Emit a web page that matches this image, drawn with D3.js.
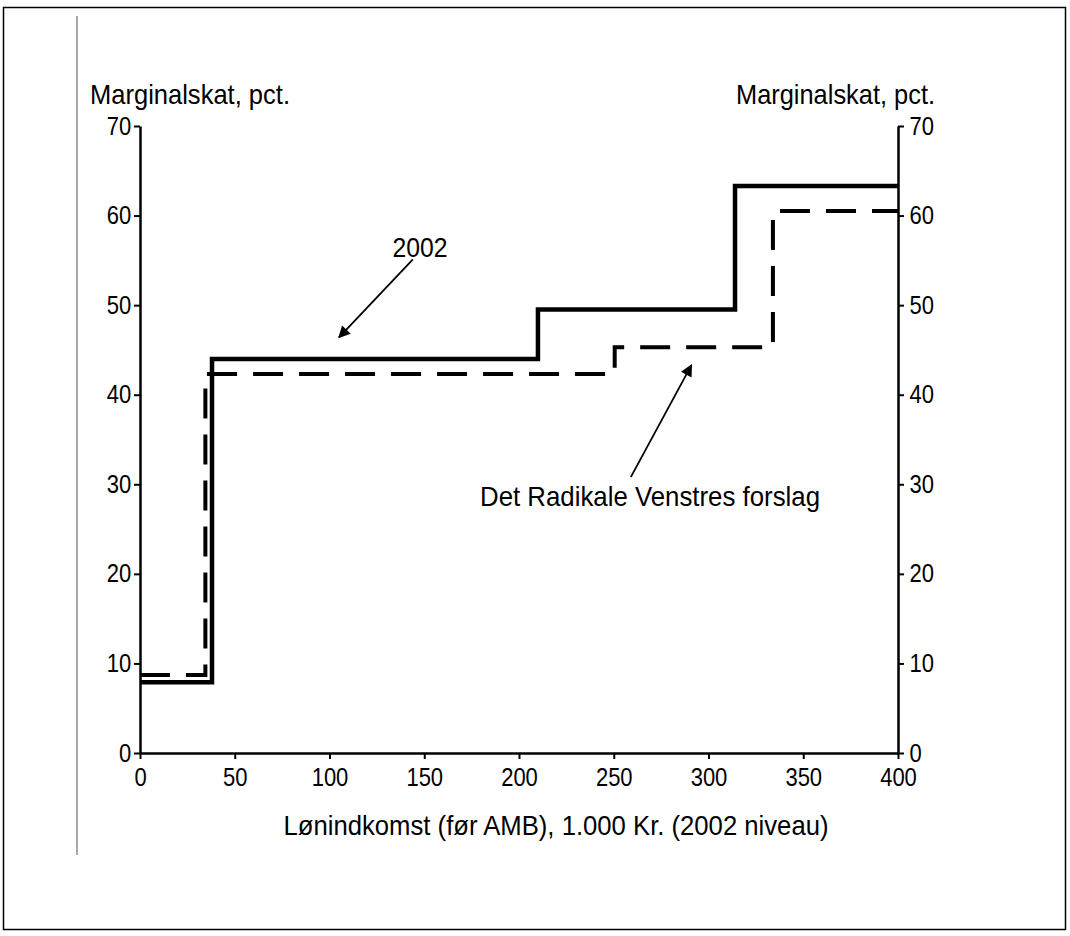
<!DOCTYPE html>
<html lang="da">
<head>
<meta charset="utf-8">
<title>Marginalskat</title>
<script src="https://cdnjs.cloudflare.com/ajax/libs/d3/7.8.5/d3.min.js"></script>
<style>
  body { margin: 0; background: #fff; }
  text { font-family: "Liberation Sans Narrow", "Arial Narrow", "Liberation Sans", sans-serif; fill: #000; }
</style>
</head>
<body>
<script>
// step data: [income in 1000 kr, marginal tax pct] - each value holds until the next x
const incomes2002 = [0, 38, 210, 314, 400];
const rates2002   = [7.9, 44, 49.5, 63.3, 63.3];
const incomesRV   = [0, 34.5, 250.5, 334, 400];
const ratesRV     = [8.7, 42.3, 45.3, 60.5, 60.5];
const xTicks = [0, 50, 100, 150, 200, 250, 300, 350, 400];
const yTicks = [0, 10, 20, 30, 40, 50, 60, 70];

const W = 1070, H = 936;
const margin = {left: 140, right: 172, top: 126, bottom: 183};

const svg = d3.select("body").append("svg")
  .attr("width", W).attr("height", H);

// frame of the scanned page
svg.append("rect").attr("x", 3.5).attr("y", 7.5).attr("width", 1062).attr("height", 922)
  .attr("fill", "none").attr("stroke", "#000").attr("stroke-width", 1.5);
svg.append("line").attr("x1", 77).attr("x2", 77).attr("y1", 16).attr("y2", 855)
  .attr("stroke", "#555").attr("stroke-width", 1);

const x = d3.scaleLinear().domain([0, 400]).range([margin.left, W - margin.right]);
const y = d3.scaleLinear().domain([0, 70]).range([H - margin.bottom, margin.top]);

const gx = svg.append("g").attr("transform", `translate(0,${y(0)})`)
  .call(d3.axisBottom(x).tickValues(xTicks).tickSize(6).tickSizeOuter(0).tickPadding(9));
const gl = svg.append("g").attr("transform", `translate(${x(0)},0)`)
  .call(d3.axisLeft(y).tickValues(yTicks).tickSize(6).tickSizeOuter(0).tickPadding(4));
const gr = svg.append("g").attr("transform", `translate(${x(400)},0)`)
  .call(d3.axisRight(y).tickValues(yTicks).tickSize(6).tickSizeOuter(0).tickPadding(7));

[gx, gl, gr].forEach(g => {
  g.select(".domain").attr("stroke", "#000").attr("stroke-width", 2.5);
  g.selectAll(".tick line").attr("stroke", "#000").attr("stroke-width", 2);
  g.selectAll(".tick text").style("font-size", "25px").attr("fill", "#000")
    .attr("transform", "scale(0.88,1)");
});

const step = d3.line().x(d => x(d[0])).y(d => y(d[1])).curve(d3.curveStepAfter);

svg.append("path").datum(d3.zip(incomesRV, ratesRV))
  .attr("d", step).attr("fill", "none").attr("stroke", "#000")
  .attr("stroke-width", 4).attr("stroke-dasharray", "30,16");
svg.append("path").datum(d3.zip(incomes2002, rates2002))
  .attr("d", step).attr("fill", "none").attr("stroke", "#000")
  .attr("stroke-width", 4.5);

// labels, drawn slightly condensed like the original
function label(px, py, str, anchor, size, len) {
  const g = svg.append("g").attr("transform", `translate(${px},${py})`);
  g.append("text").attr("text-anchor", anchor || "start").style("font-size", (size || 27) + "px")
    .attr("textLength", len).attr("lengthAdjust", "spacingAndGlyphs").text(str);
}
label(90, 104, "Marginalskat, pct.", "start", 28, 200);
label(935, 104, "Marginalskat, pct.", "end", 28, 199);
label(556, 835, "Lønindkomst (før AMB), 1.000 Kr. (2002 niveau)", "middle", 28, 545);
label(420, 257, "2002", "middle", 28, 55);
label(650, 506, "Det Radikale Venstres forslag", "middle", 28, 340);

// arrows
svg.append("defs").append("marker").attr("id", "arr").attr("viewBox", "0 0 10 10")
  .attr("refX", 9).attr("refY", 5).attr("markerWidth", 14).attr("markerHeight", 12)
  .attr("markerUnits", "userSpaceOnUse").attr("orient", "auto")
  .append("path").attr("d", "M0,0L10,5L0,10z").attr("fill", "#000");

svg.append("line").attr("x1", x(144)).attr("y1", y(55.1)).attr("x2", x(105)).attr("y2", y(46.4))
  .attr("stroke", "#000").attr("stroke-width", 1.8).attr("marker-end", "url(#arr)");
svg.append("line").attr("x1", x(259)).attr("y1", y(30.8)).attr("x2", x(291)).attr("y2", y(43.3))
  .attr("stroke", "#000").attr("stroke-width", 1.8).attr("marker-end", "url(#arr)");
</script>
</body>
</html>
